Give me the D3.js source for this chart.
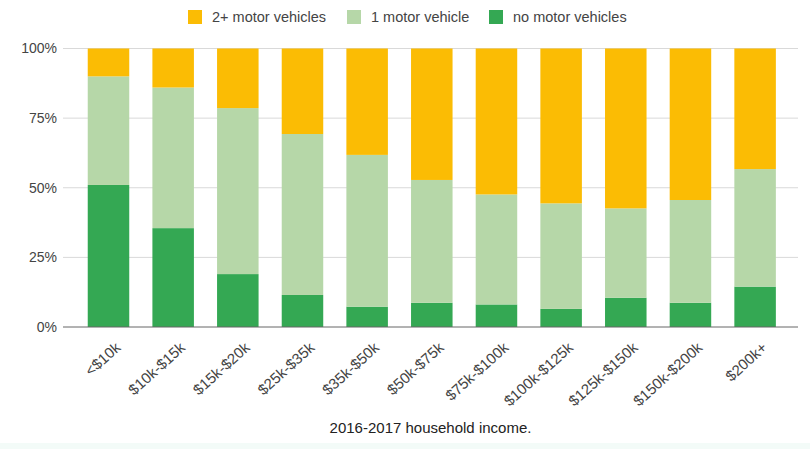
<!DOCTYPE html>
<html>
<head>
<meta charset="utf-8">
<script src="https://cdn.jsdelivr.net/npm/d3@7"></script>
<style>
  html, body { margin: 0; padding: 0; background: #fff; }
  svg { display: block; font-family: "Liberation Sans", Arial, sans-serif; }
</style>
</head>
<body>
<svg id="chart" width="810" height="449"></svg>
<script>
const categories = ["<$10k","$10k-$15k","$15k-$20k","$25k-$35k","$35k-$50k","$50k-$75k","$75k-$100k","$100k-$125k","$125k-$150k","$150k-$200k","$200k+"];
const noVehicles  = [51, 35.5, 19, 11.5, 7.3, 8.7, 8.1, 6.5, 10.5, 8.7, 14.5];
const oneVehicle  = [39, 50.5, 59.6, 57.8, 54.5, 44.1, 39.5, 37.9, 32.1, 36.9, 42.2];
const twoPlus     = [10, 14, 21.4, 30.7, 38.2, 47.2, 52.4, 55.6, 57.4, 54.4, 43.3];
const seriesNames = ["no motor vehicles", "1 motor vehicle", "2+ motor vehicles"];
const legendLabels = ["2+ motor vehicles", "1 motor vehicle", "no motor vehicles"];
const yTicks = [0, 0.25, 0.5, 0.75, 1];
const xTitle = "2016-2017 household income.";

const colors = {"no motor vehicles": "#34a853", "1 motor vehicle": "#b6d7a8", "2+ motor vehicles": "#fbbc04"};

const rows = categories.map((c, i) => ({
  cat: c,
  "no motor vehicles": noVehicles[i] / 100,
  "1 motor vehicle": oneVehicle[i] / 100,
  "2+ motor vehicles": twoPlus[i] / 100
}));

const svg = d3.select("#chart");
const W = 810, H = 449;
const plotL = 63, plotR = 798, plotT = 48.5, plotB = 327;

// faint bottom strip
svg.append("rect").attr("x", 0).attr("y", 443).attr("width", W).attr("height", 6).attr("fill", "#f3fbf8");

const x = d3.scaleBand().domain(categories).range([plotL + 1.3, plotR + 1.3]).paddingInner(0.358).paddingOuter(0.3625);
const y = d3.scaleLinear().domain([0, 1]).range([plotB, plotT]);

// gridlines
svg.append("g").selectAll("line").data(yTicks.filter(t => t > 0)).join("line")
  .attr("x1", plotL).attr("x2", plotR)
  .attr("y1", d => y(d)).attr("y2", d => y(d))
  .attr("stroke", "#d9d9d9").attr("stroke-width", 1);

// y labels
svg.append("g").selectAll("text").data(yTicks).join("text")
  .attr("x", 57).attr("y", d => y(d)).attr("dy", "0.35em")
  .attr("text-anchor", "end").attr("font-size", 14).attr("fill", "#444")
  .text(d => d3.format(".0%")(d));

// stacked bars
const stack = d3.stack().keys(seriesNames);
const stacked = stack(rows);
svg.append("g").selectAll("g").data(stacked).join("g")
  .attr("fill", d => colors[d.key])
  .selectAll("rect").data(d => d).join("rect")
  .attr("x", d => x(d.data.cat))
  .attr("width", x.bandwidth())
  .attr("y", d => y(d[1]))
  .attr("height", d => y(d[0]) - y(d[1]));

// baseline
svg.append("line").attr("x1", plotL).attr("x2", plotR).attr("y1", y(0)).attr("y2", y(0))
  .attr("stroke", "#666").attr("stroke-width", 1);

// x labels
svg.append("g").selectAll("text").data(categories).join("text")
  .attr("transform", d => `translate(${x(d) + x.bandwidth() / 2 + 13},349) rotate(-42)`)
  .attr("text-anchor", "end").attr("font-size", 15).attr("fill", "#444")
  .text(d => d);

// x title
svg.append("text").attr("x", (plotL + plotR) / 2).attr("y", 433)
  .attr("text-anchor", "middle").attr("font-size", 15).attr("fill", "#222")
  .text(xTitle);

// legend
const legendX = [188, 347, 489];
const lg = svg.append("g").selectAll("g").data(legendLabels).join("g")
  .attr("transform", (d, i) => `translate(${legendX[i]},10)`);
lg.append("rect").attr("width", 14).attr("height", 14).attr("fill", d => colors[d]);
lg.append("text").attr("x", 24).attr("y", 7).attr("dy", "0.35em")
  .attr("font-size", 14.5).attr("fill", "#444").text(d => d);
</script>
</body>
</html>
